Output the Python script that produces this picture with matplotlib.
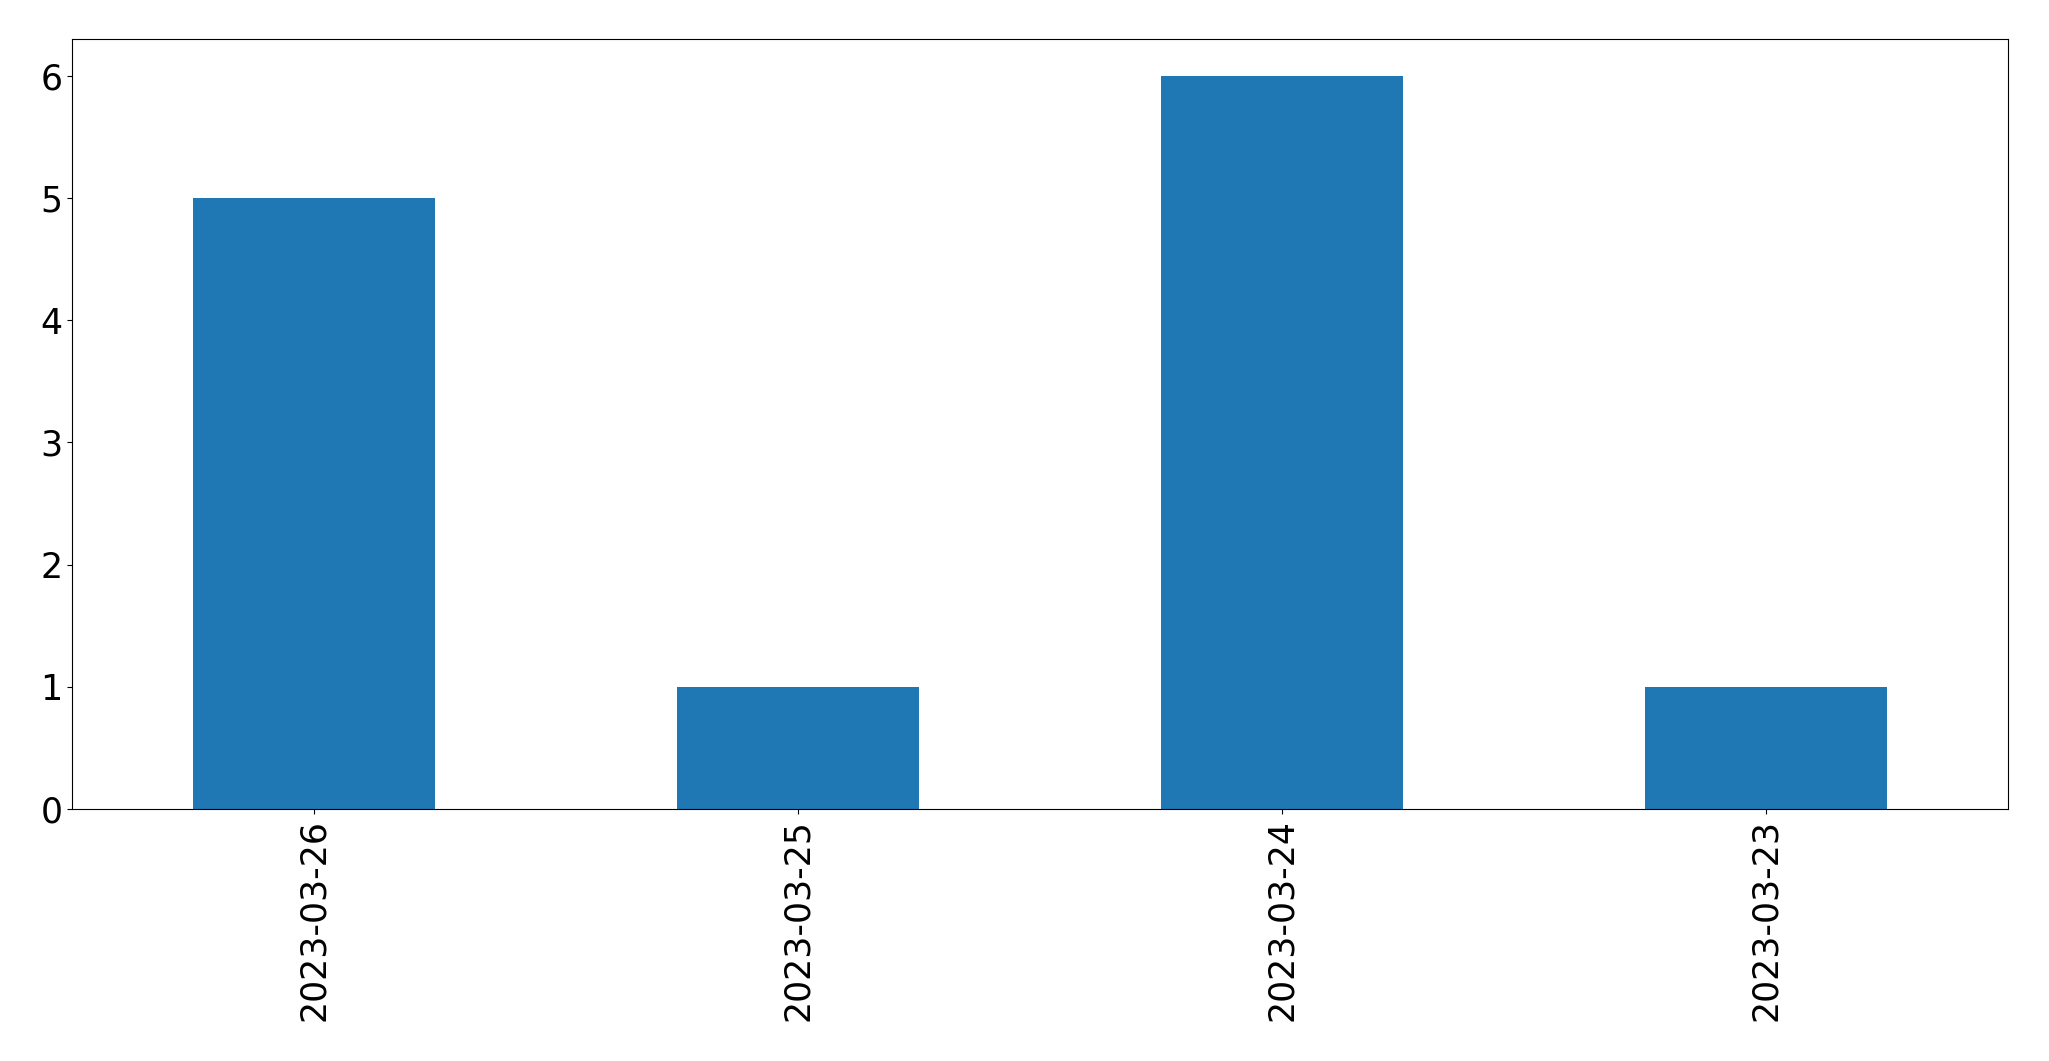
import matplotlib
matplotlib.use("Agg")
import matplotlib.pyplot as plt
import pandas as pd

dates = ["2023-03-26", "2023-03-25", "2023-03-24", "2023-03-23"]
counts = [5, 1, 6, 1]

s = pd.Series(counts, index=dates)
fig = plt.figure(figsize=(20.49, 10.61), dpi=100)
ax = fig.add_axes([0.0352, 0.2375, 0.9448, 0.7255])
s.plot(kind="bar", ax=ax, color="#1f77b4")
ax.tick_params(axis="both", labelsize=25)
fig.savefig("out.png", dpi=100)
